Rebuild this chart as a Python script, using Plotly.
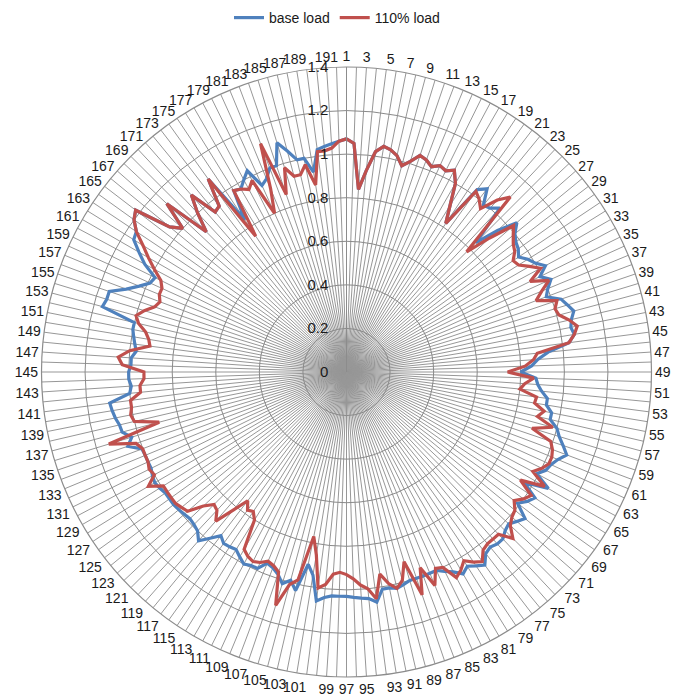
import plotly.graph_objects as go

categories = [str(k) for k in range(1, 193)]

base_load = [
    1.07, 1.05, 0.84, 0.93, 1.02, 1.05, 1.04, 1.02, 0.98, 1.01,
    1.05, 1.04, 1.02, 1.04, 1.03, 1.05, 1.00, 0.90, 0.82, 1.03,
    1.06, 0.99, 1.00, 1.03, 0.84, 0.95, 1.04, 1.00, 0.98, 0.97,
    0.95, 0.98, 1.00, 1.035, 0.99, 1.03, 1.00, 0.98, 1.04, 1.06,
    1.08, 1.06, 1.05, 1.06, 1.03, 0.93, 0.88, 0.85, 0.80, 0.87,
    0.88, 0.90, 0.93, 0.93, 0.96, 0.96, 1.00, 1.02, 1.05, 1.08,
    1.05, 1.03, 1.02, 0.99, 1.07, 0.96, 1.04, 1.02, 0.99, 1.06,
    1.04, 1.02, 1.03, 1.05, 1.05, 1.04, 1.05, 1.09, 1.07, 1.05,
    1.07, 1.04, 1.02, 1.00, 1.00, 1.00, 1.00, 1.00, 1.01, 1.02,
    1.01, 1.01, 1.065, 1.045, 1.04, 1.035, 1.03, 1.03, 1.03, 1.04,
    1.06, 0.945, 0.90, 1.03, 0.99, 1.015, 0.98, 0.96, 0.95, 0.99,
    0.99, 1.00, 0.98, 0.96, 0.965, 0.968, 0.947, 0.987, 1.03, 1.00,
    0.99, 0.985, 0.99, 0.996, 1.00, 1.00, 1.00, 1.01, 1.016, 1.01,
    1.00, 1.00, 1.00, 1.003, 1.06, 1.03, 1.066, 1.07, 1.082, 1.09,
    1.096, 1.00, 0.99, 1.00, 1.00, 0.99, 0.99, 0.97, 0.98, 0.99,
    1.00, 1.00, 1.16, 1.15, 1.15, 1.08, 1.03, 0.99, 0.98, 1.05,
    1.10, 1.15, 1.16, 1.20, 1.22, 1.05, 1.00, 1.13, 0.91, 1.00,
    1.08, 0.95, 0.96, 1.09, 0.84, 0.98, 0.97, 1.00, 1.03, 0.94,
    0.96, 1.00, 1.00, 1.10, 1.05, 1.00, 1.00, 0.93, 1.03, 1.04,
    1.05, 1.06,
]

load_110 = [
    1.07, 1.05, 0.84, 0.93, 1.02, 1.05, 1.04, 1.02, 0.98, 1.01,
    1.05, 1.04, 1.02, 1.04, 1.03, 1.05, 1.00, 0.90, 0.82, 1.02,
    1.00, 0.97, 1.05, 1.10, 0.78, 0.90, 1.02, 0.99, 0.965, 0.95,
    0.92, 0.93, 0.97, 1.01, 0.94, 1.02, 0.97, 0.93, 1.02, 1.00,
    1.01, 1.05, 1.08, 1.06, 1.03, 0.88, 0.86, 0.82, 0.74, 0.86,
    0.82, 0.80, 0.88, 0.875, 0.925, 0.90, 0.98, 0.89, 0.99, 1.01,
    1.02, 1.02, 1.00, 0.97, 1.05, 0.94, 1.02, 1.00, 0.97, 1.00,
    1.01, 1.03, 1.08, 1.02, 1.02, 1.02, 1.03, 1.07, 1.05, 1.02,
    1.05, 1.07, 1.00, 0.99, 1.06, 0.96, 1.08, 0.91, 0.99, 1.02,
    0.99, 0.94, 1.05, 1.00, 0.98, 0.95, 0.93, 0.92, 0.93, 0.98,
    1.00, 0.85, 0.77, 0.98, 1.01, 1.12, 0.97, 0.95, 0.94, 0.96,
    0.97, 0.96, 0.94, 0.80, 0.77, 0.78, 0.745, 0.82, 0.91, 0.87,
    0.86, 0.90, 0.97, 0.98, 0.99, 0.99, 0.99, 0.99, 1.05, 1.00,
    1.01, 1.00, 1.00, 1.00, 1.02, 1.14, 0.89, 1.00, 1.01, 1.00,
    1.00, 0.95, 0.95, 0.93, 0.93, 1.03, 1.05, 1.00, 0.91, 0.92,
    0.94, 0.98, 1.00, 0.97, 0.93, 0.915, 0.93, 0.93, 0.95, 1.00,
    1.05, 1.10, 1.16, 1.20, 1.22, 1.05, 1.00, 1.13, 0.91, 1.00,
    1.08, 0.95, 0.96, 1.09, 0.75, 0.98, 0.97, 0.95, 0.98, 0.80,
    0.91, 1.12, 0.86, 0.98, 0.93, 0.93, 0.97, 0.87, 1.02, 1.02,
    1.03, 1.06,
]

radial_ticks = [0, 0.2, 0.4, 0.6, 0.8, 1, 1.2, 1.4]
radial_labels = ["0", "0.2", "0.4", "0.6", "0.8", "1", "1.2", "1.4"]

n = len(categories)
step = 360.0 / n
angles = [i * step for i in range(n)]
tick_text = [c if int(c) % 2 == 1 else "" for c in categories]
pad = "\u00a0\u00a0\u00a0"

def closed(vals):
    return list(vals) + [vals[0]]

fig = go.Figure()
fig.add_trace(go.Scatterpolar(
    r=closed(base_load), theta=closed(angles), mode="lines", name="base load",
    line=dict(color="#4F81BD", width=3.2), hoverinfo="skip"))
fig.add_trace(go.Scatterpolar(
    r=closed(load_110), theta=closed(angles), mode="lines", name="110% load",
    line=dict(color="#C0504D", width=3.2), hoverinfo="skip"))

# page body has an 8px default margin; place things in figure coordinates
W, H = 685, 696
off = 8
cx, cy, R = 346.5 - off, 372 - off, 305
fig.update_layout(
    width=W, height=H,
    margin=dict(l=0, r=0, t=0, b=0, autoexpand=False),
    paper_bgcolor="white",
    font=dict(family="Liberation Sans, Arial, sans-serif", size=14, color="#1a1a1a"),
    showlegend=True,
    legend=dict(orientation="h", x=(337 - off) / W, xanchor="center",
                y=1 - 10 / H, yanchor="middle",
                font=dict(size=14), bgcolor="rgba(0,0,0,0)"),
    polar=dict(
        domain=dict(x=[(cx - R) / W, (cx + R) / W], y=[(H - cy - R) / H, (H - cy + R) / H]),
        bgcolor="white",
        angularaxis=dict(
            thetaunit="degrees", rotation=90, direction="clockwise",
            tickmode="array", tickvals=angles, ticktext=tick_text,
            showgrid=True, gridcolor="#979797", gridwidth=1.25,
            showline=True, linecolor="#8c8c8c", linewidth=1.2,
            ticks="", tickfont=dict(size=14),
        ),
        radialaxis=dict(
            range=[0, 1.4], tickmode="array", tickvals=radial_ticks,
            ticktext=[t + pad for t in radial_labels],
            angle=90, tickangle=90, side="counterclockwise",
            showgrid=True, gridcolor="#8a8a8a", gridwidth=1.2,
            showline=True, linecolor="#8c8c8c", linewidth=1, ticks="",
            tickfont=dict(size=15),
        ),
    ),
)

fig.write_html("out.html")
